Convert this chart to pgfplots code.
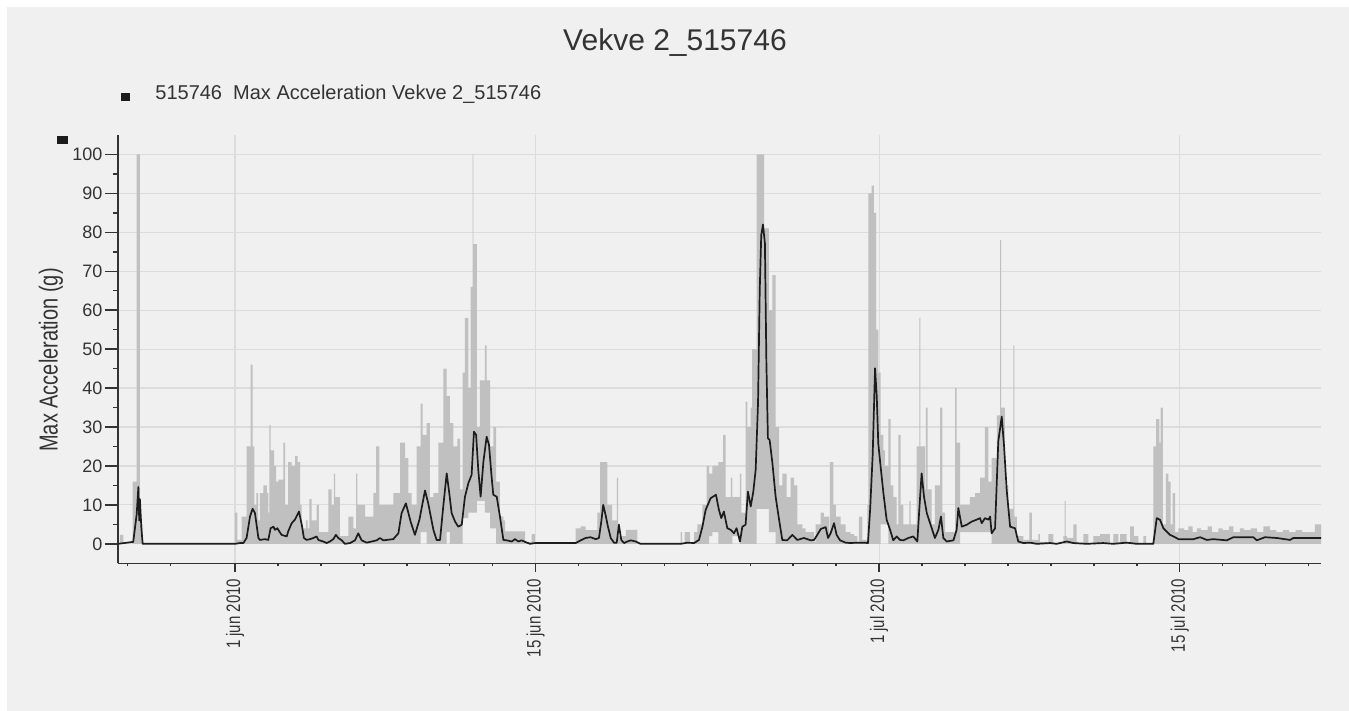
\documentclass[border=0pt]{standalone}
\usepackage{fontspec}
\setmainfont{Liberation Sans}
\usepackage{graphicx}
\usepackage{pgfplots}
\pgfplotsset{compat=1.18}
\usepgfplotslibrary{fillbetween}
\usepackage{pgfplotstable}

\definecolor{panel}{HTML}{F0F0F0}
\definecolor{gridc}{HTML}{DCDCDC}
\definecolor{axisc}{HTML}{333333}
\definecolor{labc}{HTML}{333333}
\definecolor{bandc}{HTML}{C0C0C0}
\definecolor{linec}{HTML}{1C1C1C}

% x = days since 1 jun 2010 00:00
% min/max envelope of the hourly readings (step data)
\pgfplotstableread{
d hi lo
-5.45 0 0
-5.36 2.3 0
-5.20 0 0
-4.77 16 0
-4.58 100 0
-4.43 5 0
-4.30 0 0
0.00 8 0
0.11 1 0
0.31 7 0
0.54 25 0
0.73 46 0
0.82 25 0
0.90 10 0
1.00 13 0
1.08 6 0
1.16 13 0
1.32 15 0
1.48 13 0
1.55 8 0
1.60 30.5 0
1.66 24 0
1.82 20 0
1.92 16 0
2.02 16.5 0
2.25 26 0
2.34 10 0
2.48 21 0
2.64 20 0
2.80 22.5 0
2.92 21 0
3.03 10 0
3.10 4 0
3.30 6 0
3.38 4 0
3.46 11.5 0
3.57 6 0
3.80 10 0
3.91 3 0
4.35 14 0
4.50 10 0
4.61 18 0
4.66 12 0
4.89 2 0
5.28 7 0
5.51 4 0
5.64 18 0
5.70 10 0
6.06 7 0
6.44 13 0
6.57 25 0
6.72 10 0
7.38 13 0
7.69 26 0
7.92 22 0
8.07 13 0
8.23 10 0
8.46 25 0
8.65 36 3
8.74 28 3
8.93 31 0
9.08 12 0
9.24 13 0
9.47 26 0
9.70 45 0
9.86 38 3
10.01 31 0
10.17 25 0
10.36 27 0
10.48 14 0
10.60 44 6.6
10.71 58 6.6
10.87 40 8
10.98 66 8
11.07 100 8
11.10 77 8
11.26 30 11
11.41 42 11
11.64 51 8
11.72 42 8
11.88 25 4
12.03 30 4
12.16 16 0
12.34 7 0
12.50 6 0
12.58 3.2 0
13.51 0.5 0
13.82 2.5 0
13.97 0 0
15.87 4 0
16.10 4.5 0
16.33 3.5 0
16.88 8 0
17.00 21 0
17.34 10 0
17.57 6 0
17.78 17 0
17.84 2 0
18.20 3.6 0
18.74 0 0
20.76 3 0
20.83 0 0
20.94 3 0
21.19 0 0
21.38 3 0
21.53 5 0
21.77 10 0
21.97 20 0
22.08 18 2
22.23 20 3
22.51 21 0
22.74 28 0
22.85 12 0
23.09 17 0
23.16 12 2
23.52 18 0
23.58 8 0
23.78 36.5 0
23.86 30 0
24.02 35 0
24.09 50 0
24.30 100 9
24.64 81 9
24.87 60 3
25.03 69 3
25.18 30 0
25.34 15 0
25.49 18 0
25.69 12 0
25.88 17 0
26.04 15 0
26.19 5 0
26.42 4 0
26.58 3 0
26.97 0.5 0
27.04 5 0
27.28 8 0
27.43 7 0
27.67 3 0
27.71 21 0
27.87 10 0
27.98 7 0
28.21 5 0
28.44 3 0
28.67 2.5 0
28.83 2 0
28.99 0.5 0
29.06 7 0
29.22 1 0
29.45 10 0
29.50 90 0
29.65 92 0
29.76 85 0
29.86 55 0
29.96 44 0
30.07 28 5
30.20 24 5
30.27 20 5
30.43 32 0
30.54 15 0
30.66 12 0
30.82 5 0
30.90 28 0
31.00 10 0
31.13 5 0
31.41 11 0
31.47 5 0
31.75 25 0
31.87 58 0
31.92 25 0
32.14 14 0
32.18 35 0
32.26 14 0
32.45 5 0
32.60 15 0
32.84 35 0
32.95 8 0
33.07 3 0
33.54 40 0
33.61 26 0
33.77 10 3
34.00 10 3
34.23 12 3
34.47 13 3
34.70 17 3
34.93 30 3
35.09 16 3
35.24 22 0
35.48 33 0
35.63 78 0
35.68 35 0
35.86 15 0
36.02 9 0
36.25 51 0
36.30 7 0
36.41 2 0
36.72 1 0
37.00 8 0
37.11 1 0
37.42 2.5 0
37.49 0.5 0
37.80 0 0
37.88 2.5 0
38.12 0 0
38.58 2 0
38.64 11 0
38.69 2 0
38.74 1.5 0
39.05 5 0
39.20 0 0
39.51 2.5 0
39.75 0 0
39.98 2 0
40.29 2.5 0
40.75 0 0
40.91 2.5 0
41.14 0 0
41.22 2.5 0
41.53 0 0
41.69 4.5 0
41.87 2 0
42.07 0 0
42.31 2 0
42.43 0 0
42.77 25 0
42.90 32 0
43.05 26 0
43.11 35 0
43.21 5 0
43.36 18 0
43.47 16 0
43.58 5 0
43.67 13 0
43.78 3 0
43.94 4 0
44.20 3.5 0
44.40 4.5 0
44.60 3 0
44.80 4 0
45.00 3.5 0
45.30 4.5 0
45.50 3 0
45.80 4 0
46.00 3.5 0
46.30 4.5 0
46.50 3 0
46.80 4 0
47.00 3.5 0
47.30 4 0
47.60 3 0
47.90 4.5 0
48.20 3.5 0
48.50 3 0
48.80 3.5 0
49.10 3 0
49.40 3.5 0
49.70 3 0
50.00 3 0
50.30 5 0
50.58 5 0
}\band

% smoothed maximum acceleration
\pgfplotstableread{
d v
-5.45 0
-4.74 0.5
-4.58 7.5
-4.50 14.6
-4.46 6
-4.43 11.5
-4.36 4
-4.30 0
0.00 0
0.23 0.2
0.39 0.2
0.54 1.5
0.70 7.0
0.82 9.0
0.93 7.9
1.09 1.5
1.16 1.0
1.40 1.2
1.55 1.0
1.66 4.0
1.79 4.4
1.86 3.6
1.97 4.0
2.17 2.3
2.41 1.9
2.48 3.2
2.64 5.3
2.79 6.2
2.98 8.3
3.11 4.9
3.21 1.5
3.34 1.0
3.49 1.2
3.65 1.5
3.80 1.9
3.88 1.0
4.11 0.6
4.27 0.2
4.42 0.6
4.58 1.2
4.70 2.3
4.81 1.5
4.97 0.9
5.12 0
5.36 0.2
5.59 0.9
5.74 2.7
5.90 0.9
6.13 0.3
6.37 0.6
6.60 0.9
6.75 1.5
6.91 0.9
7.06 1.0
7.37 1.2
7.61 2.7
7.76 7.9
7.96 10.4
8.18 5.7
8.38 2.3
8.59 6.2
8.85 13.7
9.00 10.4
9.24 3.6
9.39 1.0
9.55 1.0
9.70 9.6
9.86 18.1
9.98 13.0
10.09 7.9
10.25 5.7
10.40 4.4
10.56 4.9
10.71 12.1
10.87 15.6
11.02 17.7
11.13 28.8
11.23 28.0
11.33 19.0
11.44 12.1
11.57 21.1
11.72 27.5
11.83 25.4
11.95 17.3
12.03 12.6
12.19 12.1
12.34 7.0
12.50 1.0
12.65 0.9
12.89 0.6
13.04 1.2
13.20 0.6
13.35 0.9
13.51 0.5
13.74 0
13.97 0.2
15.87 0.2
16.10 0.9
16.33 1.5
16.56 1.7
16.80 1.2
16.95 1.5
17.06 5.7
17.15 10.0
17.26 7.4
17.37 4.4
17.50 1.5
17.65 0.3
17.78 0.3
17.88 4.9
17.99 1.0
18.12 0.2
18.27 0.6
18.43 0.9
18.66 0.6
18.89 0
20.76 0
21.07 0.3
21.38 0.2
21.61 1.0
21.77 4.4
21.92 8.7
22.15 11.7
22.40 12.6
22.54 8.7
22.65 6.6
22.77 8.3
22.93 4.0
23.09 3.6
23.24 2.7
23.36 4.0
23.52 0.6
23.63 4.4
23.78 4.9
23.89 13.4
24.02 9.6
24.14 13.4
24.25 19.0
24.36 36.1
24.44 65.2
24.51 79.3
24.59 82.0
24.68 77.2
24.75 46.4
24.82 27.1
24.90 26.7
25.03 20.7
25.18 12.1
25.34 6.2
25.49 1.0
25.72 0.9
25.96 2.3
26.19 1.0
26.50 1.5
26.81 0.9
26.97 1.0
27.12 2.3
27.28 3.8
27.51 4.3
27.62 1.5
27.74 2.7
27.90 5.3
28.02 2.3
28.18 0.9
28.44 0.3
28.67 0.2
28.98 0.3
29.30 0.3
29.48 0.2
29.58 8.7
29.70 22.8
29.81 45.1
29.89 37.8
29.96 25.8
30.07 19.8
30.20 13.0
30.35 6.2
30.51 3.6
30.66 0.9
30.82 1.9
30.97 1.0
31.13 0.9
31.36 1.5
31.59 1.9
31.78 0.6
31.87 8.7
31.98 18.1
32.09 12.1
32.22 7.9
32.45 4.0
32.60 1.5
32.76 3.6
32.88 7.0
32.99 1.5
33.15 0.6
33.46 0.9
33.61 3.6
33.69 9.2
33.85 4.4
34.08 4.9
34.31 5.7
34.54 6.2
34.70 6.6
34.78 5.3
34.93 6.6
35.09 6.2
35.17 7.0
35.24 2.7
35.40 4.0
35.55 26.3
35.71 32.7
35.82 25.0
35.94 13.9
36.10 4.4
36.33 4.0
36.48 0.6
36.72 0.2
37.03 0.3
37.34 0
37.96 0.2
38.27 0
38.74 0.6
39.05 0.2
39.67 0
40.44 0.2
40.91 0
41.53 0.3
42.00 0
42.77 0
42.93 6.6
43.08 6.2
43.24 4.0
43.55 2.3
43.78 1.7
43.94 1.2
44.64 1.2
44.95 1.7
45.26 1.0
45.57 1.2
46.19 0.9
46.50 1.7
47.43 1.7
47.59 0.9
47.97 1.7
48.52 1.5
49.14 1.0
49.29 1.5
50.58 1.5
}\avgline

\newcommand\tall[1]{\scalebox{1}[1.3]{#1}}

\begin{document}
\begin{tikzpicture}[x=1pt,y=1pt]
% title and legend
\node[labc, inner sep=0] at (337.5,334) {\fontsize{15}{18}\selectfont Vekve 2\_515746};
\fill[linec] (60.75,305) rectangle (65.25,309);
\node[labc, anchor=base west, inner sep=0] at (77.5,305.5)
  {\fontsize{10}{12}\selectfont 515746\ \ Max Acceleration Vekve 2\_515746};
\fill[linec] (28.5,283.5) rectangle (34,287.5);

% y axis title
\node[labc, rotate=90, inner sep=0] at (25.5,175.5)
  {\fontsize{10}{12}\selectfont\tall{Max Acceleration (g)}};

\begin{axis}[
  at={(59pt,73.85pt)}, anchor=south west,
  scale only axis, width=601.5pt, height=214.15pt,
  set layers, clip=false,
  xmin=-5.449, xmax=50.58, ymin=-5, ymax=105,
  axis lines*=left,
  axis line style={draw=axisc, line width=0.75pt},
  xtick={0,14,30,44},
  xticklabels={\tall{1 jun 2010},\tall{15 jun 2010},\tall{1 jul 2010},\tall{15 jul 2010}},
  minor xtick={-5,-3,2,4,6,8,10,12,16,18,20,22,24,26,28,32,34,36,38,40,42,46,48,50},
  ytick={0,10,...,100},
  minor ytick={5,15,...,95},
  tick align=outside,
  tick style={draw=axisc, line width=0.75pt},
  major x tick style={/pgfplots/major tick length=4.5pt},
  minor x tick style={/pgfplots/minor tick length=1.6pt},
  major y tick style={/pgfplots/major tick length=6.5pt},
  minor y tick style={/pgfplots/minor tick length=2.5pt},
  xmajorgrids, ymajorgrids,
  major grid style={draw=gridc, line width=0.6pt},
  /pgf/number format/assume math mode=true,
  y tick label style={font=\fontsize{9}{10}\selectfont, color=labc},
  x tick label style={rotate=90, anchor=east, font=\fontsize{7.5}{9}\selectfont, color=labc},
]
% page and panel backgrounds, under everything the axis draws
\begin{pgfonlayer}{axis background}
\fill[white] (rel axis cs:-0.098088,-0.34485) rectangle (rel axis cs:1.02328,1.31520);
\fill[panel] (rel axis cs:-0.092270,-0.34485) rectangle (rel axis cs:1.02328,1.29886);
\end{pgfonlayer}
\addplot[name path=hi, draw=none, const plot, forget plot] table[x=d, y=hi] {\band};
\addplot[name path=lo, draw=none, const plot, forget plot] table[x=d, y=lo] {\band};
\addplot[fill=bandc, draw=none, forget plot] fill between[of=hi and lo];
\addplot[linec, line width=0.85pt, line join=round] table[x=d, y=v] {\avgline};
\end{axis}
\end{tikzpicture}
\end{document}
